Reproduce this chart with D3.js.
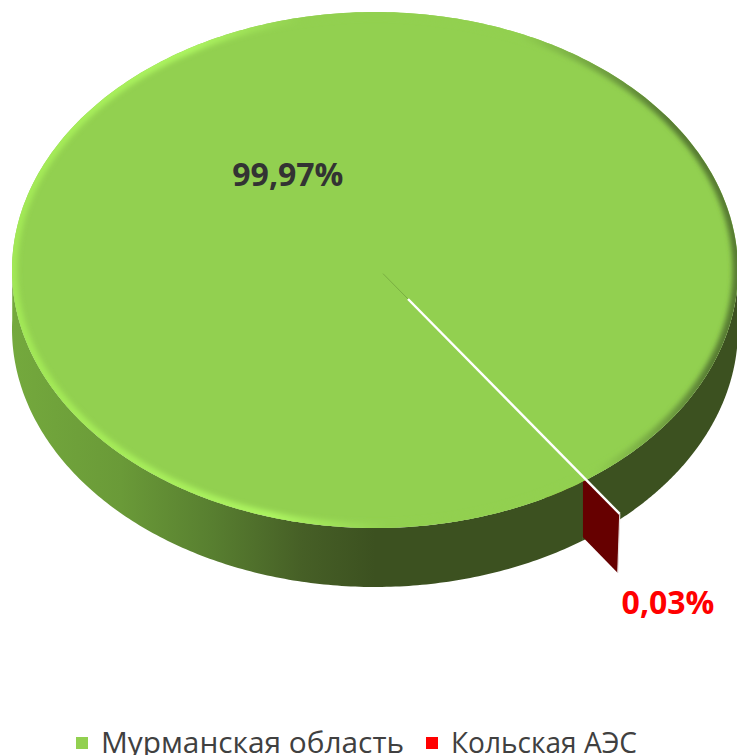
<!DOCTYPE html>
<html><head><meta charset="utf-8">
<style>html,body{margin:0;padding:0;background:#fff;overflow:hidden}svg{display:block}text{font-family:"Open Sans",sans-serif}</style>
<script src="https://cdn.jsdelivr.net/npm/d3@7/dist/d3.min.js"></script>
</head><body><svg id="c" width="737" height="755"></svg>
<script>
const categories = ["Мурманская область", "Кольская АЭС"];
const values = [99.97, 0.03];
const valueLabels = ["99,97%", "0,03%"];
const swatchColors = ["#92d050", "#ff0000"];
const labelColors = ["#333333", "#ff0000"];

const W = 737, H = 755;
const cx = 375, cy = 270, rx = 363, ry = 258, depth = 59;
const x = d3.scaleLinear().domain([-1, 1]).range([cx - rx, cx + rx]);
const y = d3.scaleLinear().domain([-1, 1]).range([cy - ry, cy + ry]);
const rad = d => d * Math.PI / 180;
const startDeg = 145.05;
const arcs = d3.pie().sort(null).startAngle(rad(startDeg)).endAngle(rad(startDeg + 360))(values);
const main = arcs[0], sliver = arcs[1];

const svg = d3.select("#c");
const defs = svg.append("defs");
const grad = (id, p, stops) => {
  const g = defs.append("linearGradient").attr("id", id).attr("gradientUnits", "userSpaceOnUse")
    .attr("x1", p[0]).attr("y1", p[1]).attr("x2", p[2]).attr("y2", p[3]);
  stops.forEach(s => g.append("stop").attr("offset", s[0]).attr("stop-color", s[1]));
};
grad("side", [12, 0, 375, 0], [[0, "#74a93d"], [0.3, "#6a9a38"], [0.55, "#587f30"], [0.8, "#465f26"], [1, "#3c5120"]]);
grad("bevel", [40, 420, 737, 300], [[0, "#a2e856"], [0.3, "#acf460"], [0.46, "#92d050"], [0.76, "#92d050"], [0.95, "#567a33"], [1, "#567a33"]]);
defs.append("filter").attr("id", "soft").attr("x", "-5%").attr("y", "-5%").attr("width", "110%").attr("height", "110%")
  .append("feGaussianBlur").attr("stdDeviation", 2.4);

const px = (a, r, ox = 0, oy = 0) => [x(r * Math.sin(a) + ox), y(-r * Math.cos(a) + oy)];
const line = d3.line();
const anglesBetween = (a0, a1) => d3.range(0, 181).map(i => a0 + (a1 - a0) * i / 180);
const topBand = (a0, a1) => {
  const as = anglesBetween(a0, a1);
  const t = as.map(a => px(a, 1));
  const b = as.slice().reverse().map(a => { const p = px(a, 1); return [p[0], p[1] + depth]; });
  return line(t.concat(b)) + "Z";
};

// main pie: side wall right of the cut
svg.append("path").attr("d", topBand(rad(88), main.startAngle)).attr("fill", "#3c5120");

// sliver: exploded away from the centre
const ex = 33 / rx, ey = 29 / ry, sr = 1.017;
const sa = (sliver.startAngle + sliver.endAngle) / 2;
const apex = [x(ex), y(ey)];
const tip = px(sa, sr, ex, ey);
svg.append("path")
  .attr("d", line([apex, tip, [tip[0] - 2, tip[1] + depth], [apex[0], apex[1] + depth]]) + "Z")
  .attr("fill", "#660000");
svg.append("line").attr("x1", tip[0]).attr("y1", tip[1]).attr("x2", tip[0] - 2).attr("y2", tip[1] + depth)
  .attr("stroke", "#e8dcdc").attr("stroke-width", 1.2);

// main pie: side wall left of the cut
svg.append("path").attr("d", topBand(main.startAngle, rad(272))).attr("fill", "url(#side)");

// main pie: top face
const ringPts = d3.range(0, 361).map(i => px(rad(i), 1));
const ringPath = line(ringPts) + "Z";
defs.append("clipPath").attr("id", "topClip").append("path").attr("d", ringPath);
svg.append("path").attr("d", ringPath).attr("fill", "#92d050");
svg.append("g").attr("clip-path", "url(#topClip)")
  .append("path").attr("d", ringPath).attr("fill", "none")
  .attr("stroke", "url(#bevel)").attr("stroke-width", 11).attr("filter", "url(#soft)");

// faint seam, then the top of the sliver
const back = px(sa, -0.12, ex, ey);
svg.append("line").attr("x1", back[0]).attr("y1", back[1]).attr("x2", apex[0]).attr("y2", apex[1])
  .attr("stroke", "#6f9f3c").attr("stroke-width", 1).attr("opacity", 0.7);
svg.append("path").attr("d", d3.line()([apex, tip])).attr("stroke", "#ffffff").attr("stroke-width", 2.4).attr("fill", "none");

// value labels
svg.selectAll("text.val").data(valueLabels).enter().append("text").attr("class", "val")
  .attr("x", (d, i) => i === 0 ? x(-0.24) : 668)
  .attr("y", (d, i) => i === 0 ? 186 : 614)
  .attr("text-anchor", "middle").attr("font-weight", 700).attr("font-size", 32)
  .attr("fill", (d, i) => labelColors[i]).text(d => d);

// legend
const swatchX = [76, 426], textX = [101, 451];
const lg = svg.selectAll("g.lg").data(categories).enter().append("g").attr("class", "lg");
lg.append("rect").attr("x", (d, i) => swatchX[i]).attr("y", 737).attr("width", 12).attr("height", 12)
  .attr("fill", (d, i) => swatchColors[i]);
lg.append("text").attr("x", (d, i) => textX[i]).attr("y", 753).attr("font-size", 29)
  .attr("textLength", (d, i) => [303, 186][i]).attr("lengthAdjust", "spacingAndGlyphs")
  .attr("fill", "#404040").text(d => d);
</script></body></html>
